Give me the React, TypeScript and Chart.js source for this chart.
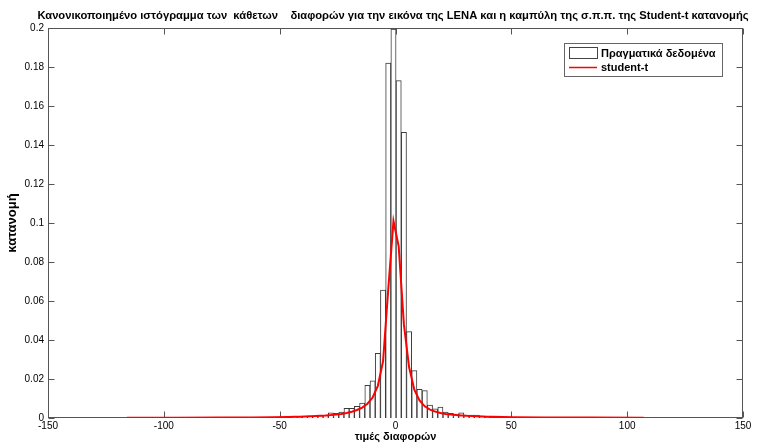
import { useEffect, useRef } from "react";
import { Chart, registerables } from "chart.js";

Chart.register(...registerables);

const TITLE =
  "Κανονικοποιημένο ιστόγραμμα των  κάθετων    διαφορών για την εικόνα της LENA και η καμπύλη της σ.π.π. της Student-t κατανομής";
const X_LABEL = "τιμές διαφορών";
const Y_LABEL = "κατανομή";
const LEGEND_HIST = "Πραγματικά δεδομένα";
const LEGEND_LINE = "student-t";

const xTicks = [-150, -100, -50, 0, 50, 100, 150];
const yTicks = [0, 0.02, 0.04, 0.06, 0.08, 0.1, 0.12, 0.14, 0.16, 0.18, 0.2];

// histogram bin centres (bin width 2.25) and normalised heights
const binCenters = [
  -43.625, -41.375, -39.125, -36.875, -34.625, -32.375, -30.125, -27.875, -25.625, -23.375,
  -21.125, -18.875, -16.625, -14.375, -12.125, -9.875, -7.625, -5.375, -3.125, -0.875,
  1.375, 3.625, 5.875, 8.125, 10.375, 12.625, 14.875, 17.125, 19.375, 21.625,
  23.875, 26.125, 28.375, 30.625, 32.875, 35.125, 37.375, 39.625,
];
const binValues = [
  0.0005, 0.0004, 0.0006, 0.001, 0.0012, 0.0012, 0.0014, 0.0027, 0.0024, 0.003,
  0.005, 0.005, 0.006, 0.0077, 0.0168, 0.019, 0.0332, 0.0656, 0.182, 0.1995,
  0.173, 0.1465, 0.0443, 0.0243, 0.0147, 0.014, 0.0066, 0.0047, 0.0056, 0.003,
  0.0024, 0.002, 0.0026, 0.0015, 0.0015, 0.0015, 0.001, 0.0005,
];

// student-t curve
const curveX = [
  -115.875, -95.625, -75.375, -61.875, -52.875, -46.125,
  -43.625, -41.375, -39.125, -36.875, -34.625, -32.375, -30.125, -27.875, -25.625, -23.375,
  -21.125, -18.875, -16.625, -14.375, -12.125, -9.875, -7.625, -5.375, -3.125, -0.875,
  1.375, 3.625, 5.875, 8.125, 10.375, 12.625, 14.875, 17.125, 19.375, 21.625,
  23.875, 26.125, 28.375, 30.625, 32.875, 35.125, 37.375, 39.625,
  41.875, 50.875, 64.375, 84.625, 107.125,
];
const curveY = [
  0.0001, 0.0001, 0.0002, 0.0003, 0.0004, 0.0005,
  0.0006, 0.0007, 0.0008, 0.0009, 0.001, 0.0012, 0.0013, 0.0015, 0.0018, 0.0021,
  0.0026, 0.0032, 0.0041, 0.0053, 0.0073, 0.0105, 0.0165, 0.029, 0.066, 0.101,
  0.088, 0.048, 0.026, 0.0145, 0.009, 0.006, 0.0043, 0.0033, 0.0026, 0.0021,
  0.0018, 0.0015, 0.0013, 0.0011, 0.001, 0.0009, 0.0008, 0.0007,
  0.0006, 0.0004, 0.0003, 0.0002, 0.0001,
];

const SANS = "'Liberation Sans', Arial, Helvetica, sans-serif";
const NARROW = "'Liberation Sans Narrow', 'Liberation Sans', Arial, sans-serif";

const framePlugin = {
  id: "matlabFrame",
  beforeDatasetsDraw(chart: any) {
    const { ctx, chartArea } = chart;
    const { left, right, top, bottom } = chartArea;
    const xs = chart.scales.x;
    const ys = chart.scales.y;
    ctx.save();
    ctx.strokeStyle = "#555";
    ctx.lineWidth = 1;
    const L = Math.round(left) + 0.5;
    const R = Math.round(right) - 0.5;
    const T = Math.round(top) + 0.5;
    const B = Math.round(bottom) - 0.5;
    ctx.strokeRect(L, T, R - L, B - T);
    ctx.beginPath();
    for (const v of xTicks) {
      const px = Math.round(xs.getPixelForValue(v)) + 0.5;
      ctx.moveTo(px, B);
      ctx.lineTo(px, B - 6);
      ctx.moveTo(px, T);
      ctx.lineTo(px, T + 6);
    }
    for (const v of yTicks) {
      const py = Math.round(ys.getPixelForValue(v)) + 0.5;
      ctx.moveTo(L, py);
      ctx.lineTo(L + 6, py);
      ctx.moveTo(R, py);
      ctx.lineTo(R - 6, py);
    }
    ctx.stroke();
    ctx.restore();
  },
  afterDraw(chart: any) {
    const { ctx, chartArea } = chart;
    ctx.save();
    ctx.fillStyle = "#000";
    // title, fitted to the reference width
    ctx.font = `bold 12px ${NARROW}`;
    const w = ctx.measureText(TITLE).width;
    const size = (12 * 711) / w;
    ctx.font = `bold ${size.toFixed(2)}px ${NARROW}`;
    ctx.textAlign = "center";
    ctx.textBaseline = "middle";
    ctx.fillText(TITLE, 393, 16);

    // axis labels
    ctx.font = `bold 11px ${SANS}`;
    ctx.fillText(X_LABEL, (chartArea.left + chartArea.right) / 2, 437);
    ctx.save();
    ctx.translate(12, (chartArea.top + chartArea.bottom) / 2);
    ctx.rotate(-Math.PI / 2);
    ctx.font = `bold 13px ${SANS}`;
    ctx.fillText(Y_LABEL, 0, 0);
    ctx.restore();

    // legend
    ctx.fillStyle = "#fff";
    ctx.fillRect(564.5, 43.5, 158, 33);
    ctx.strokeStyle = "#666";
    ctx.lineWidth = 1;
    ctx.strokeRect(564.5, 43.5, 158, 33);
    ctx.strokeStyle = "#444";
    ctx.strokeRect(569.5, 47.5, 28, 11);
    ctx.strokeStyle = "#ff0000";
    ctx.lineWidth = 1.5;
    ctx.beginPath();
    ctx.moveTo(569, 67.5);
    ctx.lineTo(597, 67.5);
    ctx.stroke();
    ctx.fillStyle = "#000";
    ctx.textAlign = "left";
    ctx.font = `bold 11px ${SANS}`;
    ctx.fillText(LEGEND_HIST, 601, 53.5);
    ctx.fillText(LEGEND_LINE, 601, 68);
    ctx.restore();
  },
};

export default function App() {
  const ref = useRef<HTMLCanvasElement | null>(null);

  useEffect(() => {
    if (!ref.current) return;
    const chart = new Chart(ref.current, {
      type: "bar",
      data: {
        datasets: [
          {
            type: "line",
            label: LEGEND_LINE,
            data: curveX.map((x, i) => ({ x, y: curveY[i] })),
            borderColor: "#ff0000",
            borderWidth: 2,
            pointRadius: 0,
            tension: 0,
            order: 0,
          } as any,
          {
            type: "bar",
            label: LEGEND_HIST,
            data: binCenters.map((x, i) => ({ x, y: binValues[i] })),
            backgroundColor: "#ffffff",
            borderColor: "#3a3a3a",
            borderWidth: 1,
            barPercentage: 1,
            categoryPercentage: 1,
            grouped: false,
            order: 1,
          } as any,
        ],
      },
      options: {
        responsive: false,
        animation: false,
        devicePixelRatio: 1,
        layout: { padding: { left: 0, right: 14, top: 28, bottom: 0 } },
        plugins: {
          legend: { display: false },
          title: { display: false },
          tooltip: { enabled: false },
        },
        scales: {
          x: {
            type: "linear",
            min: -150,
            max: 150,
            offset: false,
            afterFit: (s: any) => {
              s.height = 27;
            },
            afterBuildTicks: (s: any) => {
              s.ticks = xTicks.map((v) => ({ value: v }));
            },
            grid: { display: false, drawTicks: false },
            border: { display: false },
            ticks: {
              autoSkip: false,
              maxRotation: 0,
              padding: 2,
              color: "#000",
              font: { family: SANS, size: 10 },
              callback: (v: any) => String(v),
            },
          },
          y: {
            type: "linear",
            min: 0,
            max: 0.2,
            afterFit: (s: any) => {
              s.width = 48;
            },
            afterBuildTicks: (s: any) => {
              s.ticks = yTicks.map((v) => ({ value: v }));
            },
            grid: { display: false, drawTicks: false },
            border: { display: false },
            ticks: {
              autoSkip: false,
              padding: 4,
              color: "#000",
              font: { family: SANS, size: 10 },
              callback: (v: any) => String(Number(Number(v).toFixed(2))),
            },
          },
        },
      } as any,
      plugins: [framePlugin],
    });
    return () => chart.destroy();
  }, []);

  return (
    <div style={{ position: "fixed", left: 0, top: 0, width: 757, height: 445, background: "#fff" }}>
      <canvas ref={ref} width={757} height={445} style={{ display: "block" }} />
    </div>
  );
}
